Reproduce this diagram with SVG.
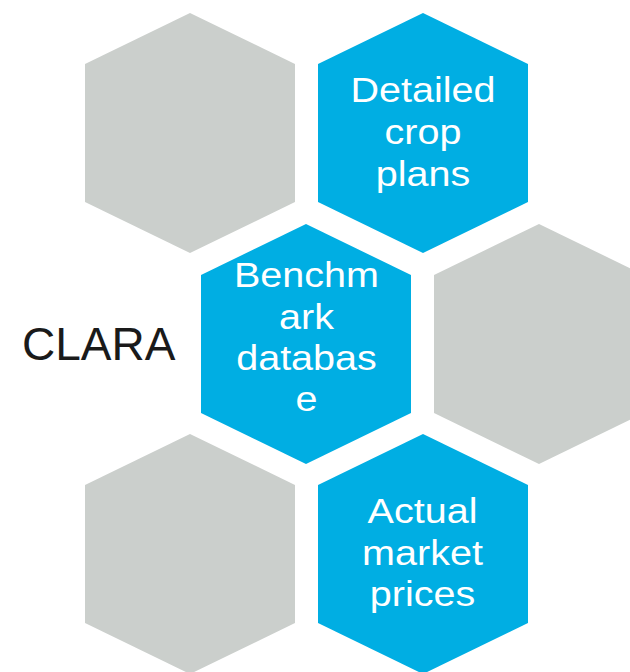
<svg xmlns="http://www.w3.org/2000/svg" width="630" height="672" viewBox="0 0 630 672">
<style>
.gray{fill:#CBCFCC}
.blue{fill:#00AEE3}
.lbl{font-family:"Liberation Sans",Arial,sans-serif;font-size:35px;fill:#ffffff;text-anchor:middle}
.title{font-family:"Liberation Sans",Arial,sans-serif;font-size:46px;fill:#1a1a1a}
</style>
<defs>
<polygon id="hex" points="0,0 105,51 105,189 0,240 -105,189 -105,51"/>
</defs>
<rect width="630" height="672" fill="#ffffff"/>
<g id="hex-top-left">
<use href="#hex" class="gray" transform="translate(190,13)"/>
</g>
<g id="detailed-crop-plans">
<use href="#hex" class="blue" transform="translate(423,13)"/>
<text class="lbl" transform="translate(423,0) scale(1.13,1)"><tspan x="0" y="102">Detailed</tspan><tspan x="0" y="144">crop</tspan><tspan x="0" y="186">plans</tspan></text>
</g>
<g id="benchmark-database">
<use href="#hex" class="blue" transform="translate(306,224)"/>
<text class="lbl" transform="translate(306.5,0) scale(1.13,1)"><tspan x="0" y="287">Benchm</tspan><tspan x="0" y="329">ark</tspan><tspan x="0" y="370">databas</tspan><tspan x="0" y="411">e</tspan></text>
</g>
<g id="hex-mid-right">
<use href="#hex" class="gray" transform="translate(539,224)"/>
</g>
<g id="hex-bottom-left">
<use href="#hex" class="gray" transform="translate(190,434)"/>
</g>
<g id="actual-market-prices">
<use href="#hex" class="blue" transform="translate(423,434)"/>
<text class="lbl" transform="translate(422.5,0) scale(1.13,1)"><tspan x="0" y="523">Actual</tspan><tspan x="0" y="565">market</tspan><tspan x="0" y="606">prices</tspan></text>
</g>
<g id="clara">
<text class="title" x="22" y="360">CLARA</text>
</g>
<g id="connectors"/>
</svg>
